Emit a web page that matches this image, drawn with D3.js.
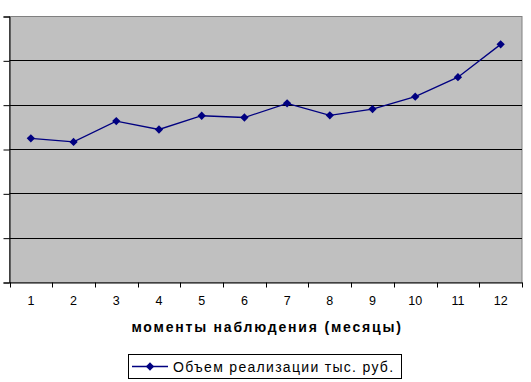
<!doctype html>
<html>
<head>
<meta charset="utf-8">
<style>
  body { margin: 0; background: #fff; }
  text { font-family: "Liberation Sans", Arial, sans-serif; fill: #000; }
</style>
</head>
<body>
<svg width="531" height="382"></svg>
<script src="https://d3js.org/d3.v7.min.js"></script>
<script>
  // values (y axis labels are cut off, scale is assumed 0..600)
  var months = [1, 2, 3, 4, 5, 6, 7, 8, 9, 10, 11, 12];
  var volume = [324, 316, 363, 344, 375, 371, 403, 376, 390, 418, 462, 536];
  var yTicks = [0, 100, 200, 300, 400, 500, 600];
  var seriesName = "Объем реализации тыс. руб.";
  var axisTitle = "моменты наблюдения (месяцы)";

  var svg = d3.select("svg");
  var pLeft = 9.5, pRight = 522, pTop = 16, pBottom = 282;

  var x = d3.scaleBand().domain(months).range([pLeft, pRight]);
  var y = d3.scaleLinear().domain([0, 600]).range([pBottom, pTop]);

  // plot area
  svg.append("rect")
    .attr("x", pLeft).attr("y", pTop + 0.5)
    .attr("width", pRight - pLeft).attr("height", pBottom - pTop)
    .attr("fill", "#c0c0c0")
    .attr("stroke", "#808080");

  // gridlines
  svg.append("g").selectAll("line")
    .data(yTicks.slice(1, -1))
    .enter().append("line")
    .attr("x1", pLeft).attr("x2", pRight)
    .attr("y1", (d) => Math.round(y(d)) + 0.5)
    .attr("y2", (d) => Math.round(y(d)) + 0.5)
    .attr("stroke", "#000");

  // y axis, labels are not visible in the original
  var yAxis = svg.append("g")
    .attr("transform", `translate(${pLeft},0.5)`)
    .call(d3.axisLeft(y).tickValues(yTicks).tickSize(6).tickFormat(""));
  yAxis.select(".domain").attr("stroke", "#000");

  // x axis with ticks between categories
  var xAxis = svg.append("g")
    .attr("transform", `translate(0,${pBottom + 0.5})`)
    .call(d3.axisBottom(x).tickSize(0).tickPadding(14));
  xAxis.select(".domain").attr("stroke", "#000");
  xAxis.selectAll("text")
    .style("font-family", "Liberation Sans, Arial, sans-serif")
    .style("font-size", "12.5px");
  xAxis.selectAll(".sep")
    .data(months.concat([13]))
    .enter().append("line")
    .attr("class", "sep")
    .attr("x1", (d, i) => Math.round(pLeft + i * x.step()) + 0.5)
    .attr("x2", (d, i) => Math.round(pLeft + i * x.step()) + 0.5)
    .attr("y1", 0).attr("y2", 5)
    .attr("stroke", "#000");

  // series
  var pts = months.map((m, i) => [x(m) + x.bandwidth() / 2, y(volume[i])]);
  svg.append("path")
    .attr("d", d3.line()(pts))
    .attr("fill", "none")
    .attr("stroke", "#000080")
    .attr("stroke-width", 1.3);

  var diamond = d3.symbol().type(d3.symbolDiamond2).size(44);
  svg.append("g").selectAll("path")
    .data(pts)
    .enter().append("path")
    .attr("d", diamond)
    .attr("transform", (d) => `translate(${d[0]},${d[1]})`)
    .attr("fill", "#000080");

  // axis title
  svg.append("text")
    .attr("x", 267).attr("y", 332)
    .attr("text-anchor", "middle")
    .style("font-size", "14px")
    .style("font-weight", "bold")
    .style("letter-spacing", "1.8px")
    .text(axisTitle);

  // legend
  var lg = svg.append("g");
  lg.append("rect")
    .attr("x", 128.5).attr("y", 354.5)
    .attr("width", 273).attr("height", 24)
    .attr("fill", "#fff").attr("stroke", "#000");
  lg.append("line")
    .attr("x1", 132).attr("x2", 168)
    .attr("y1", 366.5).attr("y2", 366.5)
    .attr("stroke", "#000080").attr("stroke-width", 1.3);
  lg.append("path")
    .attr("d", diamond)
    .attr("transform", "translate(150,366.5)")
    .attr("fill", "#000080");
  lg.append("text")
    .attr("x", 173).attr("y", 371.5)
    .style("font-size", "14px")
    .style("letter-spacing", "1.3px")
    .text(seriesName);
</script>
</body>
</html>
